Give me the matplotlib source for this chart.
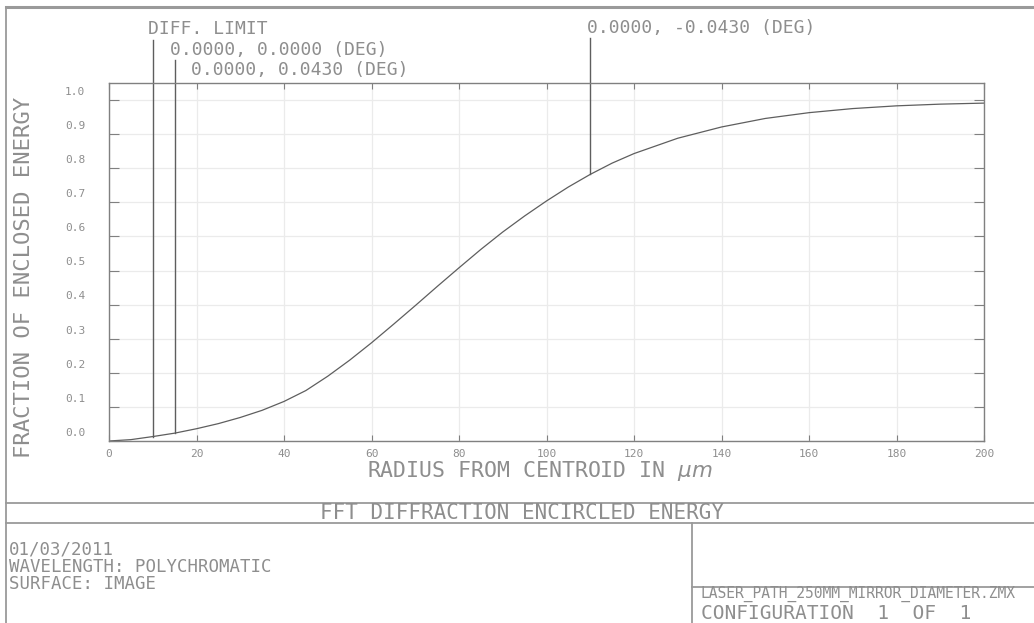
import numpy as np
import matplotlib
matplotlib.use('Agg')
import matplotlib.pyplot as plt
from matplotlib.lines import Line2D

plt.rcParams['font.family'] = ['DejaVu Sans Mono', 'DejaVu Sans']

# Encircled energy vs. radius (all field points overlap)
radius = [0, 5, 10, 15, 20, 25, 30, 35, 40, 45, 50, 55, 60, 65, 70, 75, 80,
          85, 90, 95, 100, 105, 110, 115, 120, 130, 140, 150, 160, 170, 180,
          190, 200]
enclosed = [0.0, 0.004, 0.013, 0.023, 0.036, 0.051, 0.069, 0.090, 0.116,
            0.148, 0.190, 0.237, 0.288, 0.342, 0.397, 0.453, 0.508, 0.562,
            0.613, 0.660, 0.704, 0.745, 0.782, 0.815, 0.843, 0.888, 0.921,
            0.946, 0.963, 0.975, 0.983, 0.988, 0.991]

# field markers: radius where each label line meets the curve
marker_r = [10, 15, 110]
marker_labels = ['DIFF. LIMIT', '0.0000, 0.0000 (DEG)',
                 '0.0000, 0.0430 (DEG)', '0.0000, -0.0430 (DEG)']

xticks = list(range(0, 201, 20))
yticks = [round(0.1 * i, 1) for i in range(11)]

info_lines = ['01/03/2011', 'WAVELENGTH: POLYCHROMATIC', 'SURFACE: IMAGE']
title = 'FFT DIFFRACTION ENCIRCLED ENERGY'
lens_file = 'LASER_PATH_250MM_MIRROR_DIAMETER.ZMX'
config = 'CONFIGURATION  1  OF  1'

W, H = 1034, 623
TXT = '#8e8e8e'
LN = '#5e5e5e'

fig = plt.figure(figsize=(W / 100, H / 100), dpi=100)


def fx(x):
    return x / W


def fy(y):
    return 1 - y / H


ax = fig.add_axes([fx(109), fy(441), fx(984) - fx(109), fy(83) - fy(441)])
ax.set_xlim(0, 200)
ax.set_ylim(0, 1.05)

for s in ax.spines.values():
    s.set_color('#808080')
    s.set_linewidth(1.0)

ax.set_xticks(xticks)
ax.set_yticks(yticks)
ax.grid(True, color='#ebebeb', linewidth=0.9)
ax.set_axisbelow(True)
ax.tick_params(axis='x', direction='in', length=4, width=0.8, color='#808080',
               top=True, bottom=True, pad=6, labelsize=8, labelcolor=TXT)
ax.tick_params(axis='y', direction='in', length=7.5, width=0.8, color='#808080',
               left=True, right=True, labelleft=False)

# y labels sit a little above their tick
for v in yticks:
    ax.text(-0.039, v + 0.024, f'{v:.1f}', transform=ax.get_yaxis_transform(),
            ha='center', va='center', fontsize=8, color=TXT)

ax.plot(radius, enclosed, color=LN, linewidth=0.9)

# marker lines rising from the curve up into the header
line_tops = [1.176, 1.117, 1.182]
for r, top in zip(marker_r, line_tops):
    y0 = np.interp(r, radius, enclosed)
    ax.plot([r, r], [y0, top], color=LN, linewidth=1.0, clip_on=False)

label_pos = [(148, 29), (170, 50), (191, 70), (587, 28)]
for (x, y), lab in zip(label_pos, marker_labels):
    fig.text(fx(x), fy(y), lab, ha='left', va='center', fontsize=13,
             color=TXT)

fig.text(fx(540), fy(471), r'RADIUS FROM CENTROID IN $\mu m$', ha='center',
         va='center', fontsize=15.5, color=TXT)
fig.text(fx(24), fy(277), 'FRACTION OF ENCLOSED ENERGY', rotation=90,
         ha='center', va='center', fontsize=16, color=TXT)

# page frame and title block
frame = dict(color='#9a9a9a', linewidth=1.3, transform=fig.transFigure)
fig.add_artist(Line2D([fx(6), 1], [fy(7), fy(7)], linewidth=2.2,
                      color='#9a9a9a', transform=fig.transFigure))
fig.add_artist(Line2D([fx(6), fx(6)], [fy(7), 0], **frame))
fig.add_artist(Line2D([fx(6), 1], [fy(503), fy(503)], **frame))
fig.add_artist(Line2D([fx(6), 1], [fy(523), fy(523)], **frame))
fig.add_artist(Line2D([fx(692), fx(692)], [fy(523), 0], **frame))
fig.add_artist(Line2D([fx(692), 1], [fy(587), fy(587)], **frame))

fig.text(fx(522), fy(513), title, ha='center', va='center', fontsize=15,
         color=TXT)
fig.text(fx(9), fy(541), '\n'.join(info_lines), ha='left', va='top',
         fontsize=12.5, color=TXT, linespacing=0.92)
fig.text(fx(701), fy(594), lens_file, ha='left', va='center', fontsize=10.5,
         color=TXT)
fig.text(fx(701), fy(623), config, ha='left', va='bottom', fontsize=14,
         color=TXT)

fig.savefig('out.png', dpi=100)
